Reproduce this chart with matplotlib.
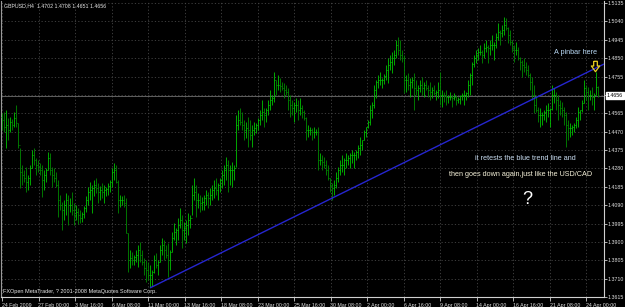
import numpy as np
import matplotlib
matplotlib.use('Agg')
import matplotlib.pyplot as plt
from matplotlib.path import Path

symbol_info = "GBPUSD,H4  1.4702 1.4708 1.4651 1.4656"
copyright_text = "FXOpen MetaTrader, ? 2001-2008 MetaQuotes Software Corp."

first_open = 1.4545
high = [
    1.4567, 1.4572, 1.4582, 1.4541, 1.4546, 1.4536, 1.4572, 1.4608, 1.4515, 1.4386,
    1.4298, 1.4272, 1.4288, 1.4246, 1.4298, 1.4376, 1.4386, 1.4334, 1.4324, 1.4308,
    1.4298, 1.4272, 1.4282, 1.4365, 1.4360, 1.4288, 1.4282, 1.4262, 1.4220, 1.4143,
    1.4107, 1.4117, 1.4153, 1.4143, 1.4127, 1.4158, 1.4102, 1.4091, 1.4076, 1.4065,
    1.4055, 1.4086, 1.4138, 1.4184, 1.4210, 1.4195, 1.4220, 1.4231, 1.4205, 1.4189,
    1.4205, 1.4195, 1.4184, 1.4205, 1.4220, 1.4282, 1.4308, 1.4298, 1.4220, 1.4143,
    1.4138, 1.4143, 1.4127, 1.3946, 1.3859, 1.3848, 1.3833, 1.3859, 1.3884, 1.3900,
    1.3859, 1.3817, 1.3807, 1.3796, 1.3781, 1.3755, 1.3833, 1.3843, 1.3807, 1.3884,
    1.3920, 1.3910, 1.3884, 1.3895, 1.3859, 1.3952, 1.3998, 1.3972, 1.4024, 1.4076,
    1.4039, 1.4003, 1.4014, 1.4050, 1.4039, 1.4195, 1.4231, 1.4195, 1.4153, 1.4143,
    1.4132, 1.4143, 1.4169, 1.4158, 1.4179, 1.4195, 1.4220, 1.4231, 1.4205, 1.4231,
    1.4272, 1.4298, 1.4339, 1.4324, 1.4298, 1.4313, 1.4298, 1.4556, 1.4582, 1.4593,
    1.4572, 1.4531, 1.4520, 1.4546, 1.4531, 1.4505, 1.4520, 1.4515, 1.4541, 1.4582,
    1.4634, 1.4593, 1.4593, 1.4634, 1.4686, 1.4660, 1.4779, 1.4737, 1.4763, 1.4748,
    1.4727, 1.4722, 1.4712, 1.4696, 1.4660, 1.4634, 1.4624, 1.4644, 1.4634, 1.4644,
    1.4608, 1.4582, 1.4546, 1.4505, 1.4494, 1.4489, 1.4494, 1.4484, 1.4494, 1.4360,
    1.4350, 1.4339, 1.4324, 1.4298, 1.4231, 1.4205, 1.4220, 1.4262, 1.4288, 1.4324,
    1.4350, 1.4334, 1.4360, 1.4350, 1.4360, 1.4376, 1.4365, 1.4376, 1.4401, 1.4443,
    1.4427, 1.4479, 1.4494, 1.4531, 1.4608, 1.4624, 1.4712, 1.4737, 1.4763, 1.4779,
    1.4748, 1.4768, 1.4815, 1.4851, 1.4867, 1.4882, 1.4893, 1.4944, 1.4960, 1.4944,
    1.4893, 1.4867, 1.4763, 1.4774, 1.4748, 1.4753, 1.4774, 1.4737, 1.4712, 1.4737,
    1.4753, 1.4727, 1.4737, 1.4712, 1.4727, 1.4701, 1.4712, 1.4686, 1.4727, 1.4779,
    1.4686, 1.4675, 1.4686, 1.4660, 1.4675, 1.4660, 1.4670, 1.4660, 1.4650, 1.4660,
    1.4670, 1.4686, 1.4675, 1.4737, 1.4774, 1.4830, 1.4867, 1.4893, 1.4903, 1.4918,
    1.4893, 1.4929, 1.4944, 1.4918, 1.4944, 1.4970, 1.4934, 1.4980, 1.5032, 1.4996,
    1.5022, 1.5063, 1.5058, 1.5011, 1.4996, 1.4944, 1.4918, 1.4934, 1.4908, 1.4856,
    1.4841, 1.4851, 1.4830, 1.4815, 1.4774, 1.4753, 1.4712, 1.4660, 1.4598, 1.4593,
    1.4572, 1.4582, 1.4608, 1.4618, 1.4593, 1.4712, 1.4696, 1.4675, 1.4660, 1.4634,
    1.4624, 1.4598, 1.4572, 1.4531, 1.4515, 1.4505, 1.4515, 1.4546, 1.4598, 1.4582,
    1.4634, 1.4737, 1.4712, 1.4701, 1.4686, 1.4701, 1.4670, 1.4779, 1.4708,
]
low = [
    1.4479, 1.4469, 1.4386, 1.4427, 1.4469, 1.4479, 1.4494, 1.4494, 1.4386, 1.4179,
    1.4195, 1.4210, 1.4158, 1.4169, 1.4195, 1.4282, 1.4298, 1.4246, 1.4262, 1.4246,
    1.4132, 1.4169, 1.4210, 1.4272, 1.4246, 1.4184, 1.4210, 1.4184, 1.4029, 1.4065,
    1.3962, 1.4014, 1.4039, 1.3988, 1.4055, 1.4039, 1.3988, 1.4014, 1.3993, 1.3998,
    1.4003, 1.4024, 1.4055, 1.4091, 1.4117, 1.4050, 1.4138, 1.4153, 1.4102, 1.4117,
    1.4127, 1.4102, 1.4138, 1.4143, 1.4158, 1.4184, 1.4220, 1.4205, 1.4050, 1.4081,
    1.4091, 1.4081, 1.3946, 1.3745, 1.3765, 1.3781, 1.3781, 1.3796, 1.3771, 1.3796,
    1.3781, 1.3729, 1.3693, 1.3703, 1.3667, 1.3672, 1.3740, 1.3765, 1.3729, 1.3796,
    1.3833, 1.3807, 1.3817, 1.3719, 1.3755, 1.3848, 1.3910, 1.3884, 1.3910, 1.3972,
    1.3869, 1.3910, 1.3895, 1.3936, 1.3972, 1.4039, 1.4117, 1.4029, 1.4076, 1.4055,
    1.4065, 1.4065, 1.4091, 1.4076, 1.4091, 1.4117, 1.4127, 1.4143, 1.4117, 1.4158,
    1.4179, 1.4195, 1.4220, 1.4158, 1.4195, 1.4184, 1.4220, 1.4288, 1.4479, 1.4505,
    1.4479, 1.4427, 1.4438, 1.4391, 1.4427, 1.4391, 1.4453, 1.4463, 1.4479, 1.4505,
    1.4531, 1.4494, 1.4520, 1.4556, 1.4582, 1.4608, 1.4624, 1.4660, 1.4686, 1.4675,
    1.4686, 1.4644, 1.4660, 1.4582, 1.4546, 1.4556, 1.4520, 1.4572, 1.4531, 1.4556,
    1.4541, 1.4531, 1.4427, 1.4443, 1.4453, 1.4427, 1.4438, 1.4453, 1.4272, 1.4298,
    1.4272, 1.4282, 1.4246, 1.4220, 1.4158, 1.4117, 1.4143, 1.4179, 1.4210, 1.4246,
    1.4262, 1.4246, 1.4282, 1.4298, 1.4282, 1.4308, 1.4282, 1.4324, 1.4334, 1.4350,
    1.4376, 1.4427, 1.4443, 1.4489, 1.4505, 1.4541, 1.4593, 1.4644, 1.4696, 1.4712,
    1.4696, 1.4717, 1.4737, 1.4722, 1.4789, 1.4774, 1.4815, 1.4851, 1.4867, 1.4841,
    1.4830, 1.4670, 1.4675, 1.4686, 1.4650, 1.4696, 1.4582, 1.4660, 1.4634, 1.4675,
    1.4660, 1.4650, 1.4686, 1.4650, 1.4634, 1.4644, 1.4660, 1.4634, 1.4644, 1.4608,
    1.4598, 1.4624, 1.4608, 1.4618, 1.4634, 1.4598, 1.4634, 1.4608, 1.4618, 1.4613,
    1.4634, 1.4608, 1.4634, 1.4650, 1.4660, 1.4712, 1.4805, 1.4825, 1.4841, 1.4867,
    1.4825, 1.4851, 1.4882, 1.4825, 1.4867, 1.4893, 1.4841, 1.4903, 1.4944, 1.4918,
    1.4960, 1.4970, 1.4996, 1.4929, 1.4918, 1.4882, 1.4830, 1.4867, 1.4841, 1.4789,
    1.4753, 1.4779, 1.4763, 1.4753, 1.4686, 1.4634, 1.4567, 1.4572, 1.4520, 1.4494,
    1.4505, 1.4531, 1.4520, 1.4546, 1.4494, 1.4582, 1.4618, 1.4582, 1.4531, 1.4556,
    1.4546, 1.4505, 1.4391, 1.4427, 1.4443, 1.4453, 1.4469, 1.4489, 1.4494, 1.4531,
    1.4572, 1.4618, 1.4634, 1.4582, 1.4634, 1.4608, 1.4582, 1.4660, 1.4651,
]
close = [
    1.4531, 1.4494, 1.4505, 1.4479, 1.4520, 1.4505, 1.4541, 1.4515, 1.4401, 1.4262,
    1.4246, 1.4231, 1.4210, 1.4231, 1.4282, 1.4350, 1.4324, 1.4298, 1.4288, 1.4272,
    1.4220, 1.4246, 1.4272, 1.4334, 1.4272, 1.4246, 1.4231, 1.4195, 1.4117, 1.4091,
    1.4065, 1.4091, 1.4117, 1.4091, 1.4091, 1.4065, 1.4039, 1.4055, 1.4039, 1.4024,
    1.4045, 1.4076, 1.4117, 1.4158, 1.4169, 1.4179, 1.4195, 1.4179, 1.4158, 1.4169,
    1.4158, 1.4169, 1.4174, 1.4189, 1.4210, 1.4262, 1.4272, 1.4210, 1.4117, 1.4117,
    1.4117, 1.4102, 1.3946, 1.3807, 1.3817, 1.3807, 1.3822, 1.3833, 1.3859, 1.3833,
    1.3796, 1.3765, 1.3755, 1.3729, 1.3729, 1.3745, 1.3807, 1.3781, 1.3796, 1.3859,
    1.3884, 1.3859, 1.3833, 1.3807, 1.3848, 1.3920, 1.3952, 1.3962, 1.3988, 1.4014,
    1.3962, 1.3972, 1.3988, 1.4014, 1.4024, 1.4143, 1.4158, 1.4117, 1.4117, 1.4102,
    1.4107, 1.4127, 1.4143, 1.4127, 1.4143, 1.4169, 1.4179, 1.4169, 1.4195, 1.4220,
    1.4246, 1.4272, 1.4298, 1.4272, 1.4272, 1.4272, 1.4282, 1.4505, 1.4531, 1.4520,
    1.4505, 1.4479, 1.4489, 1.4479, 1.4453, 1.4479, 1.4489, 1.4505, 1.4531, 1.4556,
    1.4572, 1.4556, 1.4582, 1.4608, 1.4634, 1.4644, 1.4737, 1.4712, 1.4712, 1.4706,
    1.4696, 1.4686, 1.4675, 1.4634, 1.4608, 1.4593, 1.4608, 1.4608, 1.4582, 1.4593,
    1.4572, 1.4541, 1.4479, 1.4479, 1.4479, 1.4469, 1.4469, 1.4469, 1.4324, 1.4324,
    1.4313, 1.4298, 1.4272, 1.4231, 1.4195, 1.4179, 1.4195, 1.4231, 1.4272, 1.4298,
    1.4298, 1.4324, 1.4324, 1.4334, 1.4350, 1.4350, 1.4350, 1.4365, 1.4386, 1.4401,
    1.4427, 1.4469, 1.4494, 1.4520, 1.4582, 1.4608, 1.4686, 1.4727, 1.4737, 1.4737,
    1.4737, 1.4758, 1.4789, 1.4815, 1.4830, 1.4851, 1.4867, 1.4918, 1.4893, 1.4867,
    1.4851, 1.4737, 1.4737, 1.4712, 1.4727, 1.4737, 1.4696, 1.4686, 1.4696, 1.4712,
    1.4696, 1.4712, 1.4696, 1.4686, 1.4675, 1.4686, 1.4670, 1.4675, 1.4686, 1.4660,
    1.4660, 1.4655, 1.4650, 1.4650, 1.4650, 1.4644, 1.4650, 1.4634, 1.4639, 1.4655,
    1.4660, 1.4660, 1.4670, 1.4712, 1.4763, 1.4820, 1.4851, 1.4867, 1.4882, 1.4882,
    1.4867, 1.4903, 1.4908, 1.4903, 1.4918, 1.4918, 1.4918, 1.4960, 1.4986, 1.4980,
    1.4996, 1.5022, 1.5006, 1.4970, 1.4934, 1.4903, 1.4893, 1.4893, 1.4851, 1.4830,
    1.4815, 1.4805, 1.4789, 1.4763, 1.4727, 1.4660, 1.4608, 1.4582, 1.4556, 1.4556,
    1.4556, 1.4572, 1.4582, 1.4582, 1.4588, 1.4660, 1.4660, 1.4634, 1.4608, 1.4593,
    1.4582, 1.4556, 1.4505, 1.4489, 1.4489, 1.4494, 1.4505, 1.4531, 1.4572, 1.4582,
    1.4618, 1.4696, 1.4675, 1.4660, 1.4660, 1.4650, 1.4660, 1.4702, 1.4656,
]

date_labels = ['24 Feb 2009', '27 Feb 00:00', '3 Mar 16:00', '6 Mar 08:00',
               '11 Mar 00:00', '13 Mar 16:00', '18 Mar 08:00', '23 Mar 00:00',
               '25 Mar 16:00', '30 Mar 08:00', '2 Apr 00:00', '6 Apr 16:00',
               '9 Apr 08:00', '14 Apr 00:00', '16 Apr 16:00', '21 Apr 08:00',
               '24 Apr 00:00']
price_ticks = [1.5135, 1.5040, 1.4945, 1.4850, 1.4755, 1.4660, 1.4565, 1.4470,
               1.4375, 1.4280, 1.4185, 1.4090, 1.3995, 1.3900, 1.3805, 1.3710, 1.3615]
last_price = 1.4656

trend_bars = [74, 301]
trend_prices = [1.3662, 1.4820]
pinbar_marker_bar = 296.5
pinbar_marker_price = 1.4810

notes = [
    ("A pinbar here", 287, 1.4882, '#b8d8f4', 5.2),
    ("it retests the blue trend line and", 261.5, 1.4329, '#c8dcf0', 5.2),
    ("then goes down again,just like the USD/CAD", 259.5, 1.4251, '#f4f0d8', 5.2),
    ("?", 262.5, 1.4120, '#ffffff', 13),
]

assert len(high) == len(low) == len(close)

W, H = 625, 307
FS = 3.8
FONT = 'Liberation Sans'
fig = plt.figure(figsize=(W / 100, H / 100), dpi=100, facecolor='black')
ax = fig.add_axes([1 / W, 10 / H, 603 / W, 296 / H], facecolor='black')

n = len(high)
x = np.arange(n)
hi = np.array(high)
lo = np.array(low)
cl = np.array(close)
op = np.concatenate([[first_open], cl[:-1]])
up = cl >= op
cols = np.where(up, '#00c400', '#008a00')

tick_step = 18.25
xt = np.arange(len(date_labels)) * tick_step

# grid
grid_kw = dict(color='#464646', lw=0.6, linestyle=(0, (1.5, 2.5)), zorder=0)
for p in price_ticks:
    ax.axhline(p, **grid_kw)
for t in xt:
    ax.axvline(t, **grid_kw)

# current price line
ax.axhline(last_price, color='#6e6e6e', lw=0.6, zorder=1)

# bars
ax.vlines(x, lo, hi, colors=cols, lw=0.6, zorder=3)
ax.hlines(op, x - 0.45, x, colors=cols, lw=0.5, zorder=3)
ax.hlines(cl, x, x + 0.45, colors=cols, lw=0.5, zorder=3)

# trend line
ax.plot(trend_bars, trend_prices, color='#2626d0', lw=1.0, zorder=4,
        solid_capstyle='butt')

# pinbar arrow marker
arrow = Path([(-0.35, 1.0), (0.35, 1.0), (0.35, 0.1), (0.8, 0.1), (0.0, -1.0),
              (-0.8, 0.1), (-0.35, 0.1), (-0.35, 1.0)])
ax.plot([pinbar_marker_bar], [pinbar_marker_price], marker=arrow, ms=7.5,
        mfc='none', mec='#e8d020', mew=0.9, ls='none', zorder=5)

for txt, bx, py, col, fs in notes:
    ax.text(bx, py, txt, color=col, fontsize=fs, family=FONT,
            ha='center', va='center', zorder=6)

ax.set_xlim(-0.5, 301)
ax.set_ylim(1.3615, 1.5146)

# axes style
ax.spines['top'].set_visible(False)
ax.spines['left'].set_color('#9a9a9a')
ax.spines['left'].set_linewidth(0.8)
ax.spines['right'].set_color('#d0d0d0')
ax.spines['right'].set_linewidth(0.8)
ax.spines['bottom'].set_color('#d0d0d0')
ax.spines['bottom'].set_linewidth(0.8)

ax.yaxis.tick_right()
ax.set_yticks(price_ticks)
ax.set_yticklabels(['' if abs(p - 1.4660) < 1e-6 else f'{p:.4f}' for p in price_ticks],
                   fontsize=FS, family=FONT, color='#e0e0e0')
ax.tick_params(axis='y', length=2, width=0.6, color='#d0d0d0', pad=0.8,
               direction='out', left=False)

ax.set_xticks(xt)
ax.set_xticklabels(date_labels, fontsize=FS, family=FONT,
                   color='#e0e0e0', ha='left')
ax.tick_params(axis='x', length=3, width=0.6, color='#d0d0d0', pad=1.2,
               direction='out')

# current price label box
ax.text(1.0 + 3 / 603, last_price, f'{last_price:.4f}', transform=ax.get_yaxis_transform(),
        fontsize=FS, family=FONT, color='black', ha='left', va='center',
        bbox=dict(boxstyle='square,pad=0.15', fc='white', ec='white'), clip_on=False,
        zorder=7)

fig.text(4 / W, 1 - 6 / H, symbol_info, fontsize=FS, family=FONT,
         color='#e8e8e8', ha='left', va='center')
fig.text(3 / W, 1 - 292 / H, copyright_text, fontsize=4.0, family=FONT,
         color='#e8e8e8', ha='left', va='center')

fig.savefig('out.png', dpi=100, facecolor='black')
